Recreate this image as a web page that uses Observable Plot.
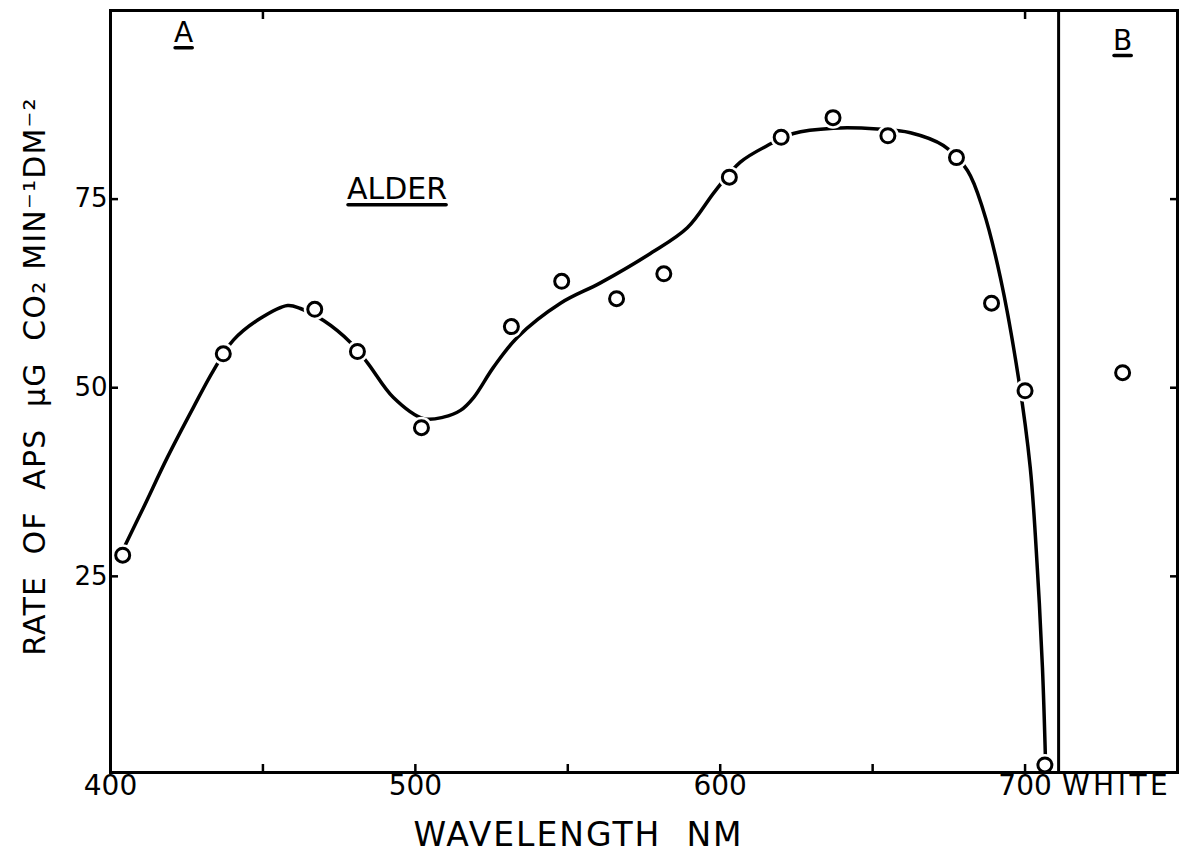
<!DOCTYPE html>
<html>
<head>
<meta charset="utf-8">
<script src="https://cdn.jsdelivr.net/npm/d3@7"></script>
<script src="https://cdn.jsdelivr.net/npm/@observablehq/plot@0.6"></script>
<style>
  html, body { margin: 0; padding: 0; background: #fff; }
  #chart { width: 1183px; height: 861px; }
</style>
</head>
<body>
<div id="chart"></div>
<script>
// Measured rates of apparent photosynthesis (APS) for alder leaves under monochromatic light
const wavelength = [404, 437, 467, 481, 502, 531.5, 548, 566, 581.5, 603, 620, 637, 655, 677.5, 689, 700, 706.5];
const rate = [27.8, 54.5, 60.4, 54.8, 44.7, 58.1, 64.1, 61.8, 65.1, 77.9, 83.2, 85.8, 83.4, 80.5, 61.2, 49.6, 0];

// Rate under white light (panel B)
const whiteLabel = "WHITE";
const whiteRate = [52.0];

// Hand-fitted action-spectrum curve
const curveWavelength = [404.3, 410.8, 418.7, 427.2, 433.8, 440.3, 449.2, 458.1, 462.3, 469.9, 478.7, 484.3, 492.8, 502.7, 509.2, 514.8, 519.1, 525.6, 533.5, 547.6, 560.7, 577.1, 589.2, 598.4, 606.6, 615.5, 624.0, 637.1, 651.6, 662.4, 673.2, 681.1, 686.3, 691.9, 697.8, 701.7, 704.0, 705.7, 706.7];
const curveRate = [28.7, 34.1, 40.8, 47.4, 52.3, 56.3, 59.2, 60.9, 60.5, 58.9, 56.0, 53.3, 48.7, 45.9, 46.1, 47.0, 48.7, 52.7, 56.7, 61.2, 63.9, 67.8, 71.2, 76.1, 79.9, 82.1, 83.7, 84.4, 84.3, 83.8, 82.1, 78.8, 73.5, 64.6, 51.4, 39.4, 26.2, 12.9, 0.6];

// Axis ticks and labels
const xLabelTicks = [400, 500, 600, 700];
const xMinorTicks = [450, 500, 550, 600, 650, 700];
const xTopTicks = [450, 700];
const yTicks = [25, 50, 75];

// Annotation and title text
const speciesLabel = "ALDER";
const panelLabels = ["A", "B"];
const xTitle = "WAVELENGTH  NM";
const yTitle = "RATE  OF  APS  µG  CO₂ MIN⁻¹DM⁻²";

const points = wavelength.map((w, i) => ({wavelength: w, rate: rate[i]}));
const curve = curveWavelength.map((w, i) => ({wavelength: w, rate: curveRate[i]}));
const whiteX = 732;     // horizontal place of the white-light point inside panel B
const whiteTextX = 730; // centre of the WHITE label
const panelSplit = 711; // boundary between panels A and B
const white = whiteRate.map(r => ({wavelength: whiteX, rate: r}));
const allDots = points.concat(white);

const font = "'DejaVu Sans', 'Noto Sans', sans-serif";

const chart = Plot.plot({
  width: 1183,
  height: 861,
  marginLeft: 110,
  marginRight: 6,
  marginTop: 10,
  marginBottom: 89,
  x: {domain: [400, 750]},
  y: {domain: [-1, 100]},
  style: {fontFamily: font, color: "black", background: "white", overflow: "visible"},
  marks: [
    Plot.line(curve, {x: "wavelength", y: "rate", curve: "catmull-rom", stroke: "black", strokeWidth: 3.5}),
    // white halo so the curve breaks around each circle
    Plot.dot(allDots, {x: "wavelength", y: "rate", r: 11, fill: "white", stroke: null}),
    Plot.frame({stroke: "black", strokeWidth: 3}),
    Plot.ruleX([panelSplit], {stroke: "black", strokeWidth: 3}),
    // inward tick marks
    Plot.axisX({anchor: "bottom", ticks: xMinorTicks, tickSize: -8, tickFormat: () => "", strokeWidth: 2.5, label: null}),
    Plot.axisX({anchor: "top", ticks: xTopTicks, tickSize: -8, tickFormat: () => "", strokeWidth: 2.5, label: null}),
    Plot.axisY({anchor: "left", ticks: yTicks, tickSize: -8, tickFormat: () => "", strokeWidth: 2.5, label: null}),
    Plot.axisY({anchor: "right", ticks: yTicks, tickSize: -8, tickFormat: () => "", strokeWidth: 2.5, label: null}),
    // tick labels
    Plot.axisX({anchor: "bottom", ticks: xLabelTicks, tickSize: 0, tickPadding: 3, fontSize: 28, label: null}),
    Plot.text([whiteLabel], {x: whiteTextX, frameAnchor: "bottom", dy: 3, lineAnchor: "top", fontSize: 28}),
    Plot.axisY({anchor: "left", ticks: yTicks, tickSize: 0, tickPadding: 3, fontSize: 26, label: null}),
    // data circles
    Plot.dot(allDots, {x: "wavelength", y: "rate", r: 7, fill: "white", stroke: "black", strokeWidth: 3}),
    // annotations
    Plot.text([speciesLabel], {x: 494, y: 75, fontSize: 30, lineAnchor: "bottom"}),
    Plot.text(panelLabels, {x: [424, 732], y: [95.8, 94.8], fontSize: 28, lineAnchor: "bottom"}),
    Plot.text([xTitle], {x: 553.5, frameAnchor: "bottom", dy: 63, fontSize: 33, lineAnchor: "middle"}),
    Plot.text([yTitle], {frameAnchor: "left", textAnchor: "middle", rotate: -90, dx: -75, dy: -15, fontSize: 30, lineAnchor: "middle"})
  ]
});

const svg = d3.select(chart);
const byText = s => svg.selectAll("text").filter(function() { return this.textContent === s; });
byText(xTitle).style("letter-spacing", "2px");
byText(yTitle).style("letter-spacing", "1.2px");
byText(whiteLabel).style("letter-spacing", "3.5px");

document.getElementById("chart").appendChild(chart);

// underline the panel and species labels
[speciesLabel, ...panelLabels].forEach(s => byText(s).each(function() {
  const b = this.getBBox();
  const y = b.y + b.height * 0.96;
  d3.select(this.parentNode).append("line")
    .attr("transform", this.getAttribute("transform"))
    .attr("x1", b.x + 1).attr("x2", b.x + b.width - 1)
    .attr("y1", y).attr("y2", y)
    .attr("stroke", "black").attr("stroke-width", 3.5).attr("stroke-linecap", "round");
}));
</script>
</body>
</html>
